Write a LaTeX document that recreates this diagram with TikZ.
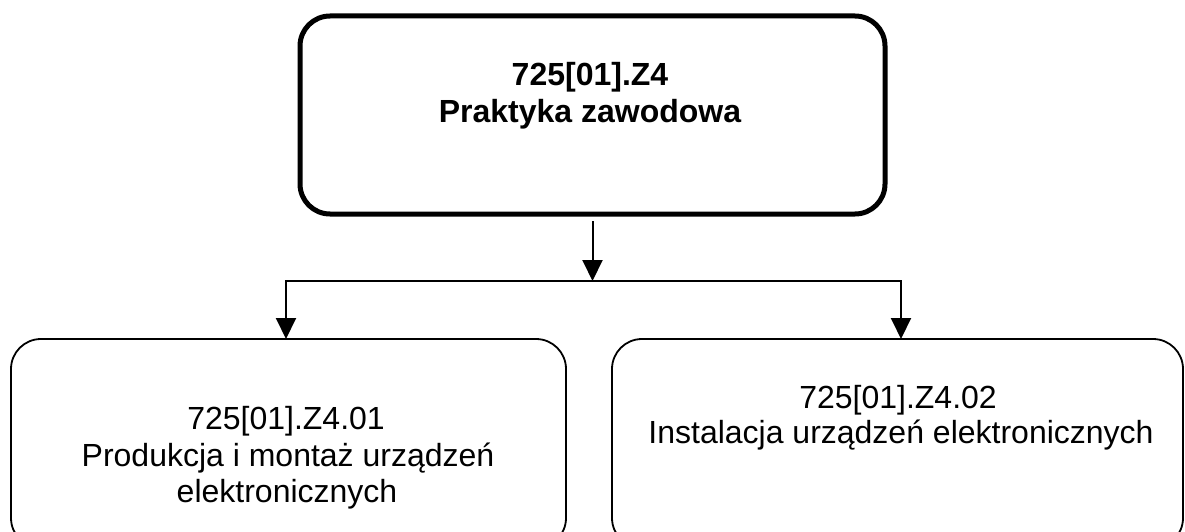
\documentclass[tikz,border=0pt]{standalone}
\usepackage{fontspec}
\setmainfont{Liberation Sans}
\usetikzlibrary{arrows.meta}
\begin{document}
\begin{tikzpicture}[x=1pt,y=-1pt,
  mainbox/.style={draw=black,line width=5pt,rounded corners=30pt},
  subbox/.style={draw=black,line width=1.8pt,rounded corners=30pt},
  conn/.style={draw=black,line width=2pt},
  arr/.style={conn,-{Triangle[width=20pt,length=21pt]}},
  txt/.style={anchor=base,inner sep=0pt,font=\fontsize{32}{37}\selectfont},
  btxt/.style={txt,font=\fontsize{32}{37}\selectfont\bfseries}]
\clip (0,0) rectangle (1185,532);
\fill[white] (0,0) rectangle (1185,532);
% boxes
\draw[mainbox] (300,16) rectangle (885,214);
\node[inner sep=0pt,minimum width=585pt,minimum height=198pt] (top) at (592.5,115) {};
\draw[subbox] (11,339) rectangle (566,548);
\node[inner sep=0pt,minimum width=555pt,minimum height=209pt] (bl) at (288.5,443.5) {};
\draw[subbox] (612,339) rectangle (1183,548);
\node[inner sep=0pt,minimum width=571pt,minimum height=209pt] (br) at (897.5,443.5) {};
% texts
\node[btxt] (t1) at (590,86) {725[01].Z4};
\node[btxt] (t2) at (590,123) {Praktyka zawodowa};
\node[txt] (l1) at (286,429) {725[01].Z4.01};
\node[txt] (l2) at (288,466) {Produkcja i montaż urządzeń};
\node[txt] (l3) at (287,502) {elektronicznych};
\node[txt] (r1) at (898,408) {725[01].Z4.02};
\node[txt] (r2) at (901,443) {Instalacja urządzeń elektronicznych};
% connectors
\coordinate (junc) at (592.5,281);
\coordinate (lt) at (286,339);
\coordinate (rt) at (901,339);
\draw[arr] ([yshift=-7pt]top.south) -- (junc);
\draw[arr] (junc) -| (lt);
\draw[arr] (junc) -| (rt);
\end{tikzpicture}
\end{document}
